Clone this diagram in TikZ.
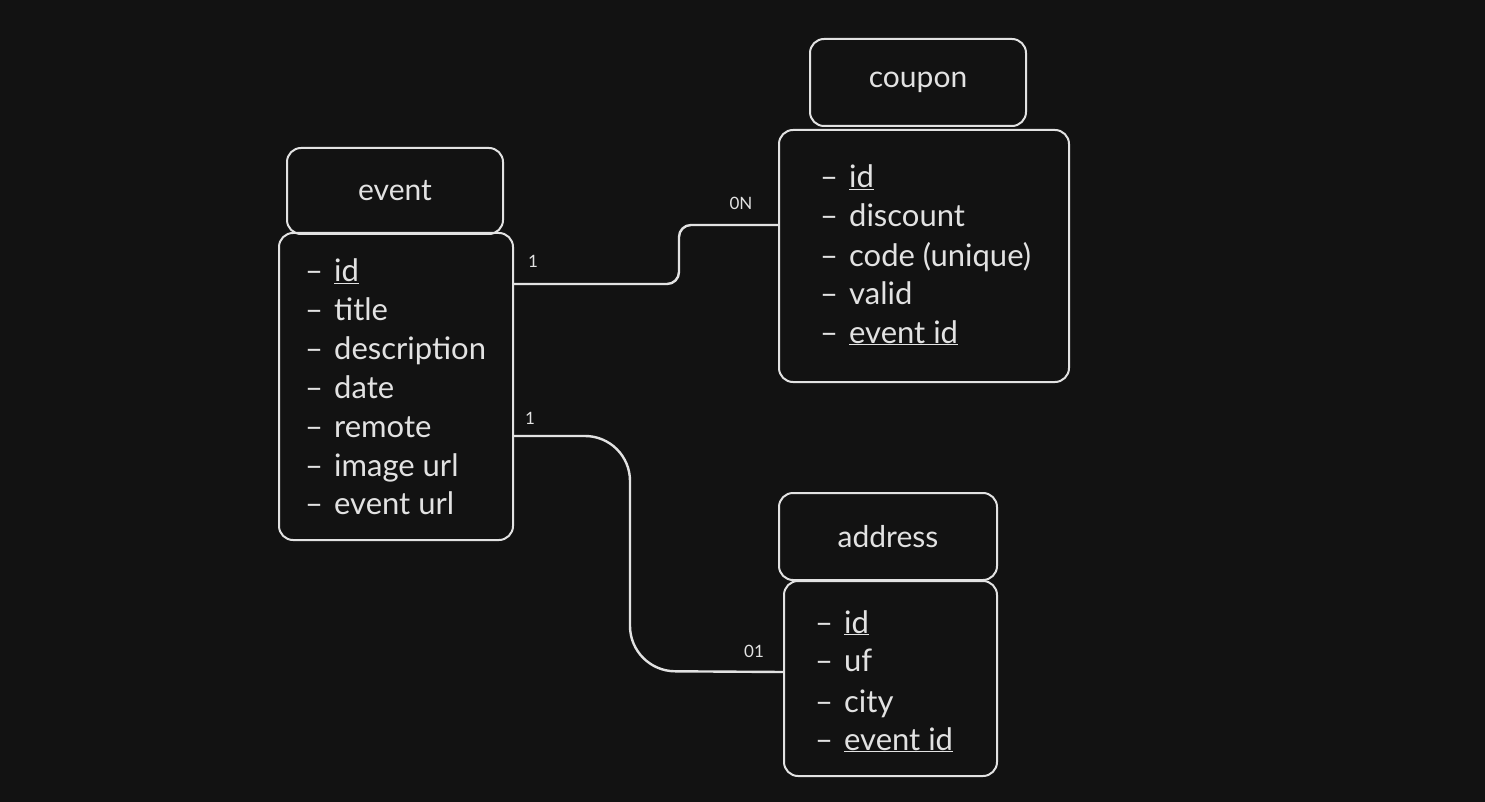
\documentclass[tikz,border=0pt]{standalone}
\usepackage{fontspec}
\setmainfont{Lato}
\usetikzlibrary{positioning}
\definecolor{bg}{HTML}{121212}
\definecolor{ink}{HTML}{E2E2E2}

\newcommand\fld[1]{\textendash\hspace{11pt}#1}

\tikzset{
    box/.style={draw=ink, line width=2pt, rounded corners=14pt, inner sep=0pt,
        text=ink, font=\fontsize{30}{34}\selectfont},
    row/.style={anchor=base west, inner sep=0pt, text=ink, font=\fontsize{31}{34}\selectfont},
    card/.style={inner sep=0pt, text=ink, font=\fontsize{17}{20}\selectfont},
    link/.style={draw=ink, line width=2.4pt}
}

\begin{document}
\begin{tikzpicture}[x=1pt, y=-1pt]
    \fill[bg] (0,0) rectangle (1485,802);

    \node[box, minimum width=216pt, minimum height=86pt] (evtitle) at (395,191) {event};
    \node[box, minimum width=234pt, minimum height=307pt] (evbody) at (396,386.5) {};
    \node[row] (ev1) at (305,282) {\fld{\underline{id}}};
    \foreach \t [count=\i from 2] in {title,description,date,remote,image url,event url}
        \node[row] (ev\i) at (305,282+38.8*\i-38.8) {\fld{\t}};

    \node[box, minimum width=216pt, minimum height=87pt] (cptitle) at (918,82.5) {coupon};
    \node[box, minimum width=290pt, minimum height=252pt] (cpbody) at (924,256) {};
    \node[row] (cp1) at (820,188) {\fld{\underline{id}}};
    \node[row] (cp2) at (820,227) {\fld{discount}};
    \node[row] (cp3) at (820,266) {\fld{code (unique)}};
    \node[row] (cp4) at (820,304) {\fld{valid}};
    \node[row] (cp5) at (820,343) {\fld{\underline{event id}}};

    \node[box, minimum width=218pt, minimum height=87pt] (adtitle) at (888,536.5) {address};
    \node[box, minimum width=213pt, minimum height=195pt] (adbody) at (890.5,678.5) {};
    \node[row] (ad1) at (815,633) {\fld{\underline{id}}};
    \node[row] (ad2) at (815,671) {\fld{uf}};
    \node[row] (ad3) at (815,712) {\fld{city}};
    \node[row] (ad4) at (815,750) {\fld{\underline{event id}}};

    \draw[link, rounded corners=12pt] ([yshift=102.5pt]evbody.east) -- (679,284)
        -- (679,225) -- ([yshift=31pt]cpbody.west);
    \draw[link, rounded corners=45pt] ([yshift=-49.5pt]evbody.east) -- (630,436)
        -- (630,671) -- ([yshift=6.5pt]adbody.west);

    \node[card] (m1) at (533,261) {1};
    \node[card] (m2) at (741,203) {0N};
    \node[card] (m3) at (530,418) {1};
    \node[card] (m4) at (754,651) {01};
\end{tikzpicture}
\end{document}
